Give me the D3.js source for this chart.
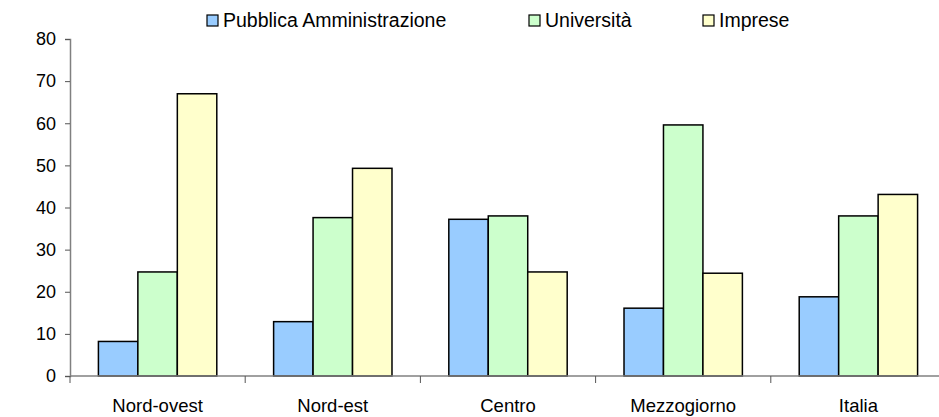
<!DOCTYPE html>
<html>
<head>
<meta charset="utf-8">
<script src="https://cdn.jsdelivr.net/npm/d3@7"></script>
<style>
  body { margin: 0; background: #fff; }
  text { font-family: "Liberation Sans", Arial, sans-serif; fill: #000; }
</style>
</head>
<body>
<svg id="vis"></svg>
<script>
// categories + series
let categories = ["Nord-ovest", "Nord-est", "Centro", "Mezzogiorno", "Italia"];
let seriesNames = ["Pubblica Amministrazione", "Università", "Imprese"];
let paValues = [8.2, 12.9, 37.2, 16.1, 18.8];
let uniValues = [24.7, 37.6, 38.0, 59.6, 38.0];
let impValues = [67.0, 49.3, 24.7, 24.4, 43.1];
let yTicks = [0, 10, 20, 30, 40, 50, 60, 70, 80];
let colors = ["#99ccff", "#ccffcc", "#ffffcc"];

let seriesValues = [paValues, uniValues, impValues];

var W = 939, H = 417;
var margin = {top: 39, left: 70, bottom: 41};
var plotRight = 946; // excel chart runs a bit past the window edge

var svg = d3.select("#vis").attr("width", W).attr("height", H);

// scales
var x0 = d3.scaleBand()
    .domain(categories)
    .range([margin.left, plotRight])
    .paddingInner(0)
    .paddingOuter(0);

var x1 = d3.scaleBand()
    .domain(seriesNames)
    .range([0, x0.bandwidth()])
    .paddingInner(0)
    .paddingOuter(0.72);

var y = d3.scaleLinear()
    .domain([0, 80])
    .range([H - margin.bottom, margin.top]);

// bars
categories.forEach((cat, ci) => {
    seriesNames.forEach((s, si) => {
        var v = seriesValues[si][ci];
        svg.append("rect")
            .attr("x", x0(cat) + x1(s))
            .attr("y", y(v))
            .attr("width", x1.bandwidth())
            .attr("height", y(0) - y(v))
            .attr("fill", colors[si])
            .attr("stroke", "#000")
            .attr("stroke-width", 1.5);
    });
});

// y axis
var yAxis = svg.append("g")
    .attr("transform", "translate(" + margin.left + ",0)")
    .call(d3.axisLeft(y).tickValues(yTicks).tickSize(5).tickPadding(9));
yAxis.select(".domain").attr("stroke", "#808080").attr("stroke-width", 1.5);
yAxis.selectAll(".tick line").attr("stroke", "#555");
yAxis.selectAll(".tick text")
    .style("font-family", "'Liberation Sans', Arial, sans-serif")
    .style("font-size", "18px")
    .attr("fill", "#000");

// x axis: ticks on category boundaries
var xAxisG = svg.append("g").attr("transform", "translate(0," + y(0) + ")");
xAxisG.append("line")
    .attr("x1", margin.left).attr("x2", plotRight)
    .attr("y1", 0).attr("y2", 0)
    .attr("stroke", "#808080").attr("stroke-width", 1.5);
xAxisG.selectAll(".ctick")
    .data(categories)
    .enter()
    .append("line")
    .attr("x1", d => x0(d)).attr("x2", d => x0(d))
    .attr("y1", 0).attr("y2", 7)
    .attr("stroke", "#555");
xAxisG.selectAll(".clabel")
    .data(categories)
    .enter()
    .append("text")
    .attr("x", d => x0(d) + x0.bandwidth() / 2)
    .attr("y", 36)
    .attr("text-anchor", "middle")
    .style("font-size", "18.5px")
    .text(d => d);

// legend
var legendX = [207, 529, 703];
var legend = svg.append("g");
seriesNames.forEach((s, i) => {
    legend.append("rect")
        .attr("x", legendX[i]).attr("y", 15)
        .attr("width", 11).attr("height", 11)
        .attr("fill", colors[i])
        .attr("stroke", "#000")
        .attr("stroke-width", 1.2);
    legend.append("text")
        .attr("x", legendX[i] + 16)
        .attr("y", 27)
        .style("font-size", "19.5px")
        .text(s);
});
</script>
</body>
</html>
